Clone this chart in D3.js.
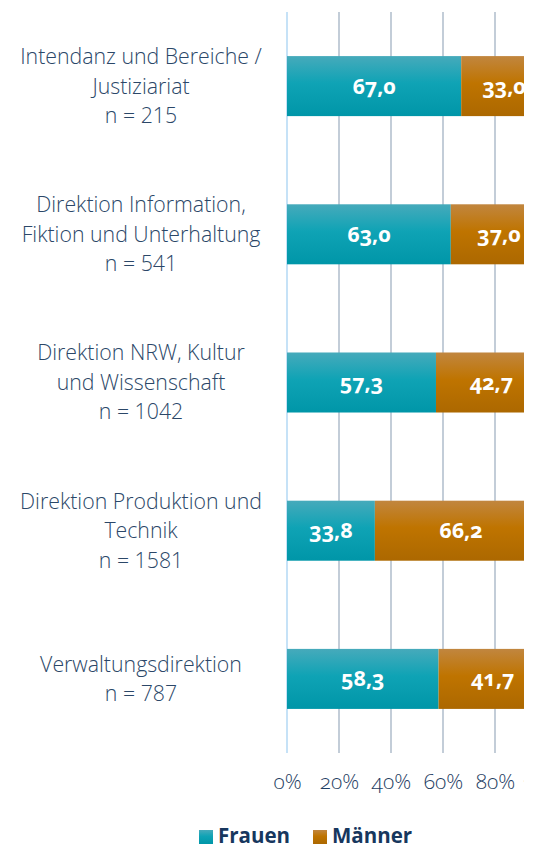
<!DOCTYPE html>
<html>
<head>
<meta charset="utf-8">
<script src="https://cdn.jsdelivr.net/npm/d3@7"></script>
<style>
  body { margin: 0; background: #fff; }
  svg { display: block; }
  .cat { font-family: 'Open Sans', sans-serif; font-weight: 300; font-size: 21.3px; fill: #2b4768; }
  .val { font-family: 'Open Sans', sans-serif; font-weight: 700; font-size: 21.5px; fill: #fff; font-feature-settings: "onum" 1; }
  .tick text { font-family: 'Open Sans', sans-serif; font-weight: 300; font-size: 21px; fill: #1f3e63; font-feature-settings: "onum" 1; }
  .legend text { font-family: 'Open Sans', sans-serif; font-weight: 700; font-size: 20.5px; fill: #17375e; }
</style>
</head>
<body>
<script>
'use strict';

// data
const categories = [
  ['Intendanz und Bereiche /', 'Justiziariat', 'n = 215'],
  ['Direktion Information,', 'Fiktion und Unterhaltung', 'n = 541'],
  ['Direktion NRW, Kultur', 'und Wissenschaft', 'n = 1042'],
  ['Direktion Produktion und', 'Technik', 'n = 1581'],
  ['Verwaltungsdirektion', 'n = 787']
];
const frauen = [67.0, 63.0, 57.3, 33.8, 58.3];
const maenner = [33.0, 37.0, 42.7, 66.2, 41.7];
const tickValues = [0, 20, 40, 60, 80, 100];
const seriesNames = ['Frauen', 'Männer'];

const width = 533, height = 845;

const svg = d3.select('body')
  .append('svg')
  .attr('width', width)
  .attr('height', height);

const defs = svg.append('defs');

const grad = (id, stops) => {
  const g = defs.append('linearGradient')
    .attr('id', id)
    .attr('x1', 0).attr('y1', 0).attr('x2', 0).attr('y2', 1);
  stops.forEach(([o, c]) => g.append('stop').attr('offset', o).attr('stop-color', c));
};
grad('gTeal', [[0, '#46aabb'], [0.45, '#0fa3b5'], [1, '#0096a8']]);
grad('gBrown', [[0, '#c1863f'], [0.45, '#bf7400'], [1, '#ac6800']]);

// the original is cropped on the right
defs.append('clipPath')
  .attr('id', 'crop')
  .append('rect')
  .attr('x', 0).attr('y', 0)
  .attr('width', 524).attr('height', height);

const x = d3.scaleLinear()
  .domain([0, 100])
  .range([287, 547]);

const y = d3.scaleBand()
  .domain(d3.range(categories.length))
  .range([12, 753])
  .paddingInner(0.595)
  .paddingOuter(0.2975);

const chart = svg.append('g').attr('clip-path', 'url(#crop)');

// gridlines
chart.append('g')
  .selectAll('line')
  .data(tickValues)
  .enter()
  .append('line')
  .attr('x1', d => x(d))
  .attr('x2', d => x(d))
  .attr('y1', 12)
  .attr('y2', 753)
  .attr('stroke', d => d === 0 ? '#c6e2f7' : '#c3cdd8')
  .attr('stroke-width', 2);

// stacked bars
const rows = frauen.map((f, i) => ({i, f, m: maenner[i]}));

const bar = chart.append('g')
  .selectAll('g')
  .data(rows)
  .enter()
  .append('g');

bar.append('rect')
  .attr('x', x(0))
  .attr('y', d => y(d.i))
  .attr('width', d => x(d.f) - x(0))
  .attr('height', y.bandwidth())
  .attr('fill', 'url(#gTeal)');

bar.append('rect')
  .attr('x', d => x(d.f))
  .attr('y', d => y(d.i))
  .attr('width', d => x(d.f + d.m) - x(d.f))
  .attr('height', y.bandwidth())
  .attr('fill', 'url(#gBrown)');

const fmt = v => d3.format('.1f')(v).replace('.', ',');

bar.append('text')
  .attr('class', 'val')
  .attr('x', d => (x(0) + x(d.f)) / 2)
  .attr('y', d => y(d.i) + y.bandwidth() / 2)
  .attr('dy', '0.35em')
  .attr('text-anchor', 'middle')
  .text(d => fmt(d.f));

bar.append('text')
  .attr('class', 'val')
  .attr('x', d => (x(d.f) + x(d.f + d.m)) / 2)
  .attr('y', d => y(d.i) + y.bandwidth() / 2)
  .attr('dy', '0.35em')
  .attr('text-anchor', 'middle')
  .text(d => fmt(d.m));

// x axis labels
const xAxis = d3.axisBottom(x)
  .tickValues(tickValues)
  .tickFormat(d => d + '%')
  .tickSize(0)
  .tickPadding(0);

const axisG = chart.append('g')
  .attr('transform', 'translate(0, 774)')
  .call(xAxis);
axisG.select('.domain').remove();

// category labels
const lineH = 29.5;
svg.append('g')
  .selectAll('text')
  .data(categories)
  .enter()
  .append('text')
  .attr('class', 'cat')
  .attr('text-anchor', 'middle')
  .each(function (lines, i) {
    const cy = y(i) + y.bandwidth() / 2;
    const top = cy - (lines.length - 1) * lineH / 2;
    d3.select(this).selectAll('tspan')
      .data(lines)
      .enter()
      .append('tspan')
      .attr('x', 141)
      .attr('y', (d, j) => top + j * lineH)
      .attr('dy', '0.35em')
      .text(d => d);
  });

// legend
const legend = svg.append('g').attr('class', 'legend');
const legendX = [199, 313];
const legendFill = ['url(#gTeal)', 'url(#gBrown)'];
seriesNames.forEach((name, i) => {
  legend.append('rect')
    .attr('x', legendX[i])
    .attr('y', 830)
    .attr('width', 14)
    .attr('height', 14)
    .attr('fill', legendFill[i]);
  legend.append('text')
    .attr('x', legendX[i] + 19)
    .attr('y', 843)
    .text(name);
});
</script>
</body>
</html>
